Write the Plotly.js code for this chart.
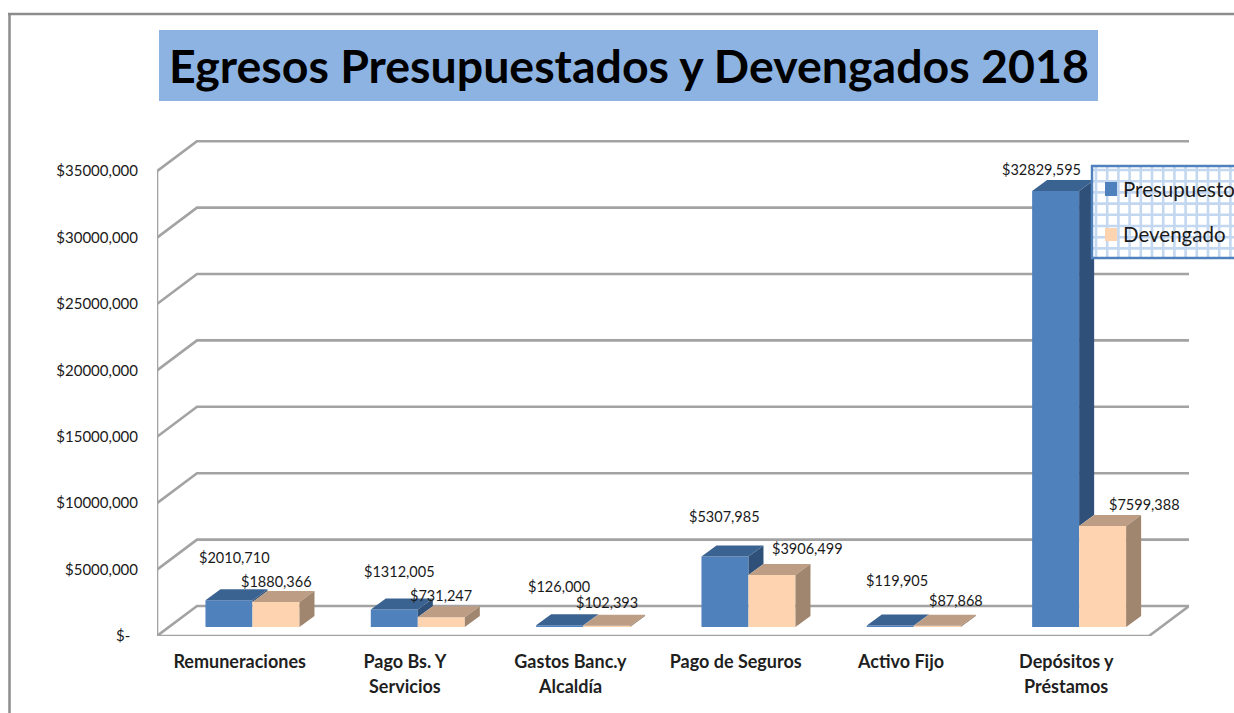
<!DOCTYPE html>
<html>
<head>
<meta charset="utf-8">
<script src="https://cdn.plot.ly/plotly-3.0.1.min.js"></script>
<style>html,body{margin:0;padding:0;background:#fff;overflow:hidden}</style>
</head>
<body>
<div id="chart" style="width:1234px;height:713px"></div>
<script>
// ---- data ----
const categoryLine1 = ['Remuneraciones', 'Pago Bs. Y', 'Gastos Banc.y', 'Pago de Seguros', 'Activo Fijo', 'Depósitos y'];
const categoryLine2 = ['', 'Servicios', 'Alcaldía', '', '', 'Préstamos'];
const presupuesto = [2010710, 1312005, 126000, 5307985, 119905, 32829595];
const devengado = [1880366, 731247, 102393, 3906499, 87868, 7599388];
const yTickVals = [0, 5000000, 10000000, 15000000, 20000000, 25000000, 30000000, 35000000];
const yTickText = ['$-\u00A0\u00A0', '$5000,000', '$10000,000', '$15000,000', '$20000,000', '$25000,000', '$30000,000', '$35000,000'];

// ---- label nudges in pixels from the top of each bar: [right, up] ----
const presNudge = [[6,43],[5,38],[-1,39],[0,40],[7,45],[-14,22]];
const devNudge = [[1,21],[0,22],[0,23],[36,27],[19,25],[42,22]];

// ---- geometry of the picture, in pixels ----
const W = 1234, H = 713;
const left = 157, right = 1189, floorY = 636, topY = 140;
const wallDX = 40, wallDY = 30;       // depth of the box
const barShiftX = 12.8, barShiftY = 9;  // bars stand mid-way in the box
const barDX = 15, barDY = 11;         // depth of a bar
const catPx = (right - wallDX - left) / categoryLine1.length;
const pxPerVal = 66.4 / 5000000;
const xMax = -0.5 + (right - left) / catPx;
const yMax = (floorY - topY) / pxPerVal;
const ux = p => p / catPx, uy = p => p / pxPerVal;
const barW = 47 / catPx;

const GRID = '#a3a3a3';
const FONT = 'Lato, Carlito, sans-serif';
const colors = {
  pres: {front:'#4f81bd', top:'#3b6391', side:'#2f5179'},
  dev: {front:'#fdd3b0', top:'#bd9e84', side:'#a0856f'}
};

// ---- walls and floor, from the axis scale ----
const wallX = [], wallY = [];
yTickVals.forEach(v => {
  wallX.push(-0.5, -0.5 + ux(wallDX), xMax, null);
  wallY.push(v, v + uy(wallDY), v + uy(wallDY), null);
});
const frontRight = xMax - ux(wallDX);
wallX.push(-0.5, -0.5, null, -0.5, frontRight, xMax);
wallY.push(0, 35000000, null, 0, 0, uy(wallDY));

const traces = [{
  type:'scatter', mode:'lines', x:wallX, y:wallY, xaxis:'x', yaxis:'y',
  line:{color:GRID, width:2.6}, hoverinfo:'skip', showlegend:false
}];

// ---- front faces ----
const xs = categoryLine1.map((_, i) => i);
traces.push({type:'bar', name:'Presupuesto', x:xs, y:presupuesto, xaxis:'x2', yaxis:'y2',
  marker:{color:colors.pres.front, line:{width:0}}, showlegend:false});
traces.push({type:'bar', name:'Devengado', x:xs, y:devengado, xaxis:'x2', yaxis:'y2',
  marker:{color:colors.dev.front, line:{width:0}}, showlegend:false});

// ---- 3-D faces computed from the values ----
function face(xv, yv, color) {
  traces.push({type:'scatter', mode:'lines', x:xv, y:yv, xaxis:'x2', yaxis:'y2',
    fill:'toself', fillcolor:color, line:{width:0, color:color}, hoverinfo:'skip', showlegend:false});
}
xs.forEach(i => {
  const p = presupuesto[i], d = devengado[i];
  const dx = ux(barDX), dy = uy(barDY);
  // presupuesto bar: x from i-barW to i; only the part of its side above the neighbour shows
  const low = Math.min(p, d);
  face([i, i, i+dx, i+dx, i], [low, p, p+dy, low+dy, low], colors.pres.side);
  face([i-barW, i-barW+dx, i+dx, i, i-barW], [p, p+dy, p+dy, p, p], colors.pres.top);
  // devengado bar: x from i to i+barW
  face([i, i+dx, i+barW+dx, i+barW, i], [d, d+dy, d+dy, d, d], colors.dev.top);
  face([i+barW, i+barW, i+barW+dx, i+barW+dx, i+barW], [0, d, d+dy, dy, 0], colors.dev.side);
});

// ---- data labels ----
const money = v => {
  const s = String(v), tail = s.slice(-3), head = s.slice(0, -3);
  return '$' + head + ',' + tail;
};
const annotations = [];
function valueLabel(i, v, nudge, side) {
  annotations.push({xref:'x2', yref:'y2', x:i + side*barW/2, y:v, text:money(v), showarrow:false,
    xanchor:'center', yanchor:'middle', xshift:nudge[0], yshift:nudge[1],
    font:{family:FONT, size:14.5, color:'#1a1a1a'}});
}
xs.forEach(i => {
  valueLabel(i, presupuesto[i], presNudge[i], -1);
  valueLabel(i, devengado[i], devNudge[i], 1);
  if (categoryLine2[i]) {
    annotations.push({xref:'x', yref:'paper', x:i, y:(H-686)/H, text:categoryLine2[i], showarrow:false,
      xanchor:'center', yanchor:'middle', font:{family:FONT, size:18, color:'#1f1f1f', weight:700}});
  }
});

// ---- picture frame, title band, legend panel ----
const px = (x0,y0,x1,y1,extra) => Object.assign({type:'rect', xref:'paper', yref:'paper',
  x0:x0/W, x1:x1/W, y0:1-y0/H, y1:1-y1/H, line:{width:0}}, extra);
const shapes = [
  {type:'line', xref:'paper', yref:'paper', x0:9.5/W, x1:9.5/W, y0:0, y1:1-14/H, line:{color:'#8c8c8c', width:2.5}},
  {type:'line', xref:'paper', yref:'paper', x0:8/W, x1:1, y0:1-14/H, y1:1-14/H, line:{color:'#8c8c8c', width:2.5}},
  px(159,30,1098,101,{fillcolor:'#8db3e2', layer:'below'}),
  px(1092,166,1244,258,{fillcolor:'#ffffff', layer:'above'})
];
for (let gx = 1096; gx < 1240; gx += 11.2) {
  shapes.push({type:'line', xref:'paper', yref:'paper', x0:gx/W, x1:gx/W, y0:1-167/H, y1:1-257/H,
    layer:'above', line:{color:'#c3d7f0', width:2.6}});
}
for (let gy = 170; gy < 257; gy += 11.2) {
  shapes.push({type:'line', xref:'paper', yref:'paper', x0:1093/W, x1:1, y0:1-gy/H, y1:1-gy/H,
    layer:'above', line:{color:'#c3d7f0', width:2.6}});
}
shapes.push(px(1092,166,1244,258,{fillcolor:'rgba(0,0,0,0)', layer:'above', line:{color:'#4f81bd', width:2.4}}));
shapes.push(px(1105,182,1117,196,{fillcolor:colors.pres.front, layer:'above'}));
shapes.push(px(1105,228,1117,241,{fillcolor:colors.dev.front, layer:'above'}));

[['Presupuesto',189],['Devengado',234]].forEach(([t,y]) => {
  annotations.push({xref:'paper', yref:'paper', x:1121/W, y:1-y/H, text:t, showarrow:false,
    xanchor:'left', yanchor:'middle', font:{family:FONT, size:20.5, color:'#1a1a1a'}});
});

const layout = {
  width:W, height:H, margin:{l:0,r:0,t:0,b:0}, paper_bgcolor:'#fff', plot_bgcolor:'rgba(0,0,0,0)',
  showlegend:false, barmode:'group', bargap:1-2*barW, bargroupgap:0, hovermode:false,
  title:{text:'Egresos Presupuestados y Devengados 2018', x:629/W, xanchor:'center', y:1-67/H, yanchor:'middle',
    font:{family:FONT, size:46.5, color:'#000', weight:700}},
  xaxis:{domain:[left/W, right/W], range:[-0.5, xMax], anchor:'y', tickmode:'array', tickvals:xs, ticktext:categoryLine1,
    showgrid:false, zeroline:false, showline:false, ticks:'outside', ticklen:9, tickcolor:'rgba(0,0,0,0)',
    tickfont:{family:FONT, size:18, color:'#1f1f1f', weight:700}},
  yaxis:{domain:[(H-floorY)/H, (H-topY)/H], range:[0, yMax], anchor:'x', tickmode:'array', tickvals:yTickVals, ticktext:yTickText,
    showgrid:false, zeroline:false, showline:false, ticks:'outside', ticklen:15, tickcolor:'rgba(0,0,0,0)',
    tickfont:{family:FONT, size:15, color:'#1a1a1a'}},
  xaxis2:{domain:[(left+barShiftX)/W, (right+barShiftX)/W], range:[-0.5, xMax], anchor:'y2', visible:false},
  yaxis2:{domain:[(H-floorY+barShiftY)/H, (H-topY+barShiftY)/H], range:[0, yMax], anchor:'x2', visible:false},
  shapes, annotations
};
Plotly.newPlot('chart', traces, layout, {displayModeBar:false, staticPlot:true});
</script>
</body>
</html>
